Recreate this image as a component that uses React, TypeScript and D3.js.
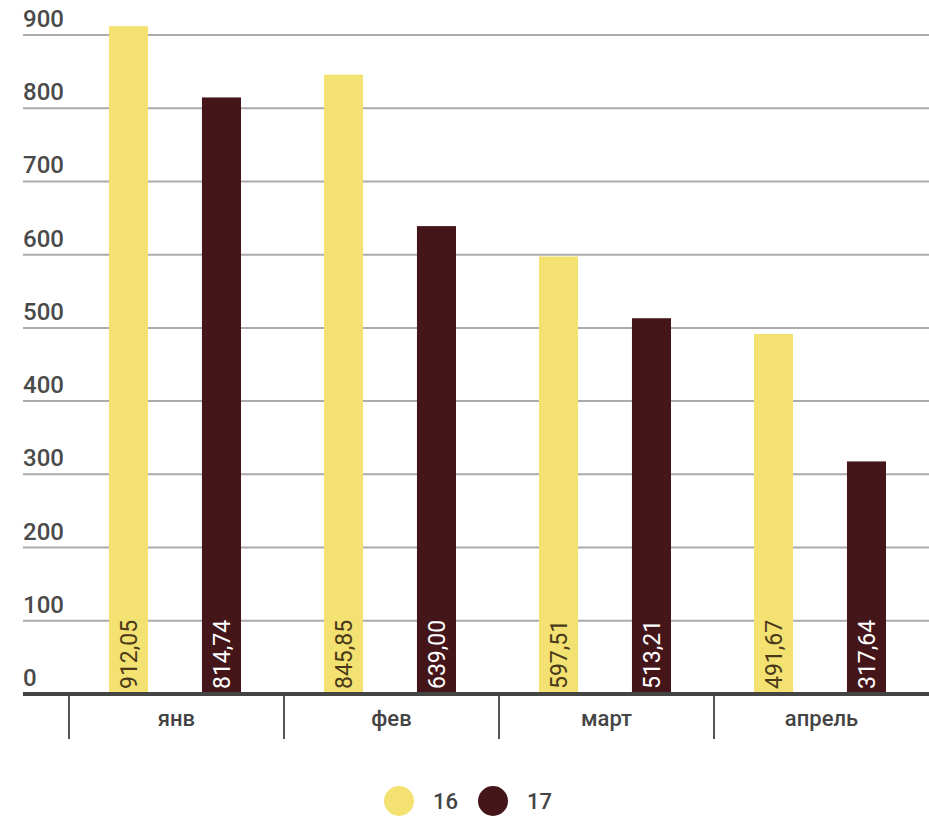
import React from "react";
import * as d3 from "d3";

const categories = ["янв", "фев", "март", "апрель"];
const seriesNames = ["16", "17"];
const values16 = [912.05, 845.85, 597.51, 491.67];
const values17 = [814.74, 639.0, 513.21, 317.64];
const yTicks = [0, 100, 200, 300, 400, 500, 600, 700, 800, 900];

const W = 929;
const H = 819;
const COLORS = ["#f3e171", "#451619"];
const FONT = "Roboto, 'Noto Sans', sans-serif";

export default function App() {
  const y = d3.scaleLinear().domain([0, 900]).range([694, 35]);
  const x0 = d3.scaleBand<string>().domain(categories).range([69, 929]).paddingInner(0).paddingOuter(0);
  const x1 = d3.scaleBand<string>().domain(seriesNames).range([40, 172]).paddingInner(0.58).paddingOuter(0);
  const allValues = [values16, values17];
  const fmt = (v: number) => v.toFixed(2).replace(".", ",");

  return (
    <svg width={W} height={H} style={{ position: "absolute", left: 0, top: 0, background: "#fff" }} fontFamily={FONT}>
      {yTicks.map((t) => (
        <g key={t}>
          {t > 0 && <line x1={23} x2={W} y1={y(t)} y2={y(t)} stroke="#ababab" strokeWidth={2} />}
          <text x={23} y={y(t) - 8} fontSize={24} fill="#4a4a4a" fontWeight={500}>
            {t}
          </text>
        </g>
      ))}
      {categories.map((c, i) => (
        <g key={c} transform={`translate(${x0(c)},0)`}>
          {seriesNames.map((s, j) => {
            const v = allValues[j][i];
            const bx = x1(s)!;
            const bw = x1.bandwidth();
            return (
              <g key={s}>
                <rect x={bx} y={y(v)} width={bw} height={y(0) - y(v)} fill={COLORS[j]} />
                <text
                  transform={`translate(${bx + bw / 2},${y(0) - 5}) rotate(-90)`}
                  dy="0.36em"
                  fontSize={23}
                  fill={j === 0 ? "#4a3a1a" : "#ffffff"}
                >
                  {fmt(v)}
                </text>
              </g>
            );
          })}
          <line x1={0} x2={0} y1={694} y2={739} stroke="#555" strokeWidth={2} />
          <text x={x0.bandwidth() / 2} y={718} dy="0.35em" textAnchor="middle" fontSize={22} fontWeight={500} fill="#444">
            {c}
          </text>
        </g>
      ))}
      <line x1={23} x2={W} y1={694} y2={694} stroke="#444" strokeWidth={4} />
      {seriesNames.map((s, j) => (
        <g key={s} transform={`translate(${399 + j * 94},801)`}>
          <circle r={15} fill={COLORS[j]} />
          <text x={34} dy="0.35em" fontSize={22} fontWeight={500} fill="#444">
            {s}
          </text>
        </g>
      ))}
    </svg>
  );
}
